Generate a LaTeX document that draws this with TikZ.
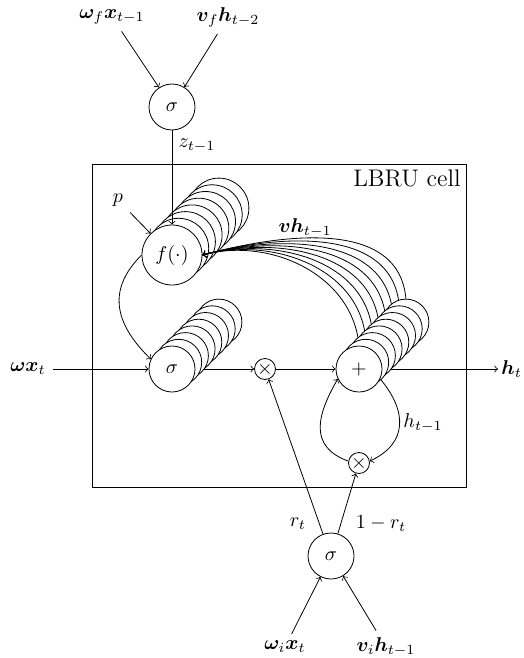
\documentclass[tikz,border=0pt]{standalone}
\usepackage{bm}
\usetikzlibrary{calc}
\pgfdeclarelayer{fg}
\pgfsetlayers{main,fg}
\begin{document}
\begin{tikzpicture}[x=0.5pt,y=-0.5pt,
  neuron/.style={circle, draw, fill=white, minimum size=23pt, inner sep=0pt},
  fnode/.style={neuron, minimum size=30pt},
  mult/.style={circle, draw, fill=white, minimum size=10.5pt, inner sep=0pt}]
\useasboundingbox (0,0) rectangle (524,658);
% cell box
\coordinate (boxnw) at (92,164);
\coordinate (boxse) at (466,487);
\draw (boxnw) rectangle (boxse);
\node[anchor=north east, font=\large, inner sep=2.5pt] (cellname) at (boxse |- boxnw) {LBRU cell};
% f stack
\foreach \k in {7,...,1} \node[fnode] (f\k) at ($(172,255)+(\k*6.7,-\k*6.7)$) {};
\node[fnode] (f) at (172,255) {$f(\cdot)$};
% sigma and plus stacks (foreground)
\begin{pgfonlayer}{fg}
\foreach \k in {7,...,1} \node[neuron] (s\k) at ($(172,369)+(\k*6.7,-\k*6.7)$) {};
\node[neuron] (s) at (172,369) {$\sigma$};
\foreach \k in {7,...,1} \node[neuron] (p\k) at ($(359,369)+(\k*6.7,-\k*6.7)$) {};
\node[neuron] (p) at (359,369) {$+$};
\end{pgfonlayer}
% other nodes
\node[neuron] (zs) at (172,107) {$\sigma$};
\node[neuron] (bs) at (331,556) {$\sigma$};
\node[mult] (m1) at (265,369) {$\times$};
\node[mult] (m2) at (359,463) {$\times$};
% labels
\node (wfx) at (112,17) {$\bm{\omega}_f\bm{x}_{t-1}$};
\node (vfh) at (228,17) {$\bm{v}_f\bm{h}_{t-2}$};
\node (z) at (197,146) {$z_{t-1}$};
\node (pl) at (118,200) {$p$};
\node (vh) at (305,228) {$\bm{v}\bm{h}_{t-1}$};
\node (wx) at (28,369) {$\bm{\omega}\bm{x}_t$};
\node[anchor=west, inner sep=1.5pt] (ht) at (498,369) {$\bm{h}_t$};
\node (hl) at (423,423) {$h_{t-1}$};
\node (rt) at (298,524) {$r_t$};
\node (omr) at (381,524) {$1-r_t$};
\node (wix) at (285,647) {$\bm{\omega}_i\bm{x}_t$};
\node (vih) at (386,647) {$\bm{v}_i\bm{h}_{t-1}$};
% connectors
\draw[->] (wfx) -- (zs);
\draw[->] (vfh) -- (zs);
\draw[->] (zs) -- (f);
\draw[->] (pl) -- (f.135);
\foreach \k in {1,...,7} \draw[->] (p\k.north) to[out=95,in=15] (f.east);
\draw[->] (p.north) to[out=95,in=15] (f.east);
\draw[->] (f.west) .. controls +(-30,30) and +(-42,-41) .. (s.155);
\draw[->] (wx) -- (s);
\draw[->] (s) -- (m1);
\draw[->] (m1) -- (p);
\draw[->] (p) -- (ht);
\draw[->] (p.-25) to[out=-50,in=25,looseness=1.3] (m2.10);
\draw[->] (m2.170) to[out=160,in=240,looseness=1.3] (p.205);
\draw[->] (bs.110) -- (m1);
\draw[->] (bs.73) -- (m2);
\draw[->] (wix) -- (bs);
\draw[->] (vih) -- (bs);
\end{tikzpicture}
\end{document}
